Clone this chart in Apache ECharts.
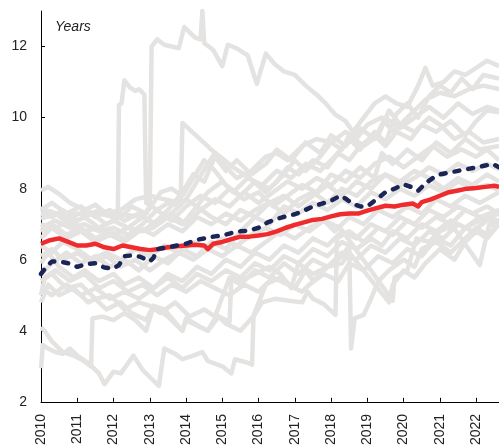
<!DOCTYPE html>
<html><head><meta charset="utf-8">
<script src="https://cdn.jsdelivr.net/npm/echarts@6/dist/echarts.min.js"></script>
<style>html,body{margin:0;padding:0;background:#fff}#c{width:499px;height:448px}</style>
</head><body><div id="c"></div>
<script>
const yearTicks = [2010,2011,2012,2013,2014,2015,2016,2017,2018,2019,2020,2021,2022];
const valueTicks = [2,4,6,8,10,12];
const unitLabel = 'Years';

const redLine = [[2010.0,6.45],[2010.25,6.55],[2010.5,6.6],[2010.75,6.5],[2011.0,6.4],[2011.25,6.4],[2011.5,6.45],[2011.75,6.35],[2012.0,6.3],[2012.25,6.4],[2012.5,6.35],[2012.75,6.3],[2013.0,6.27],[2013.25,6.3],[2013.5,6.35],[2013.75,6.38],[2014.0,6.4],[2014.25,6.42],[2014.5,6.4],[2014.6,6.3],[2014.75,6.45],[2015.0,6.5],[2015.25,6.58],[2015.5,6.65],[2015.75,6.65],[2016.0,6.68],[2016.25,6.72],[2016.5,6.8],[2016.75,6.9],[2017.0,6.98],[2017.25,7.05],[2017.5,7.12],[2017.75,7.15],[2018.0,7.22],[2018.25,7.28],[2018.5,7.3],[2018.75,7.3],[2019.0,7.38],[2019.25,7.45],[2019.5,7.52],[2019.75,7.5],[2020.0,7.55],[2020.25,7.58],[2020.4,7.5],[2020.5,7.62],[2020.75,7.7],[2021.0,7.8],[2021.25,7.9],[2021.5,7.95],[2021.75,8.0],[2022.0,8.02],[2022.25,8.05],[2022.5,8.08],[2022.63,8.05]];

const navyLine = [[2010.0,5.6],[2010.15,5.8],[2010.3,5.95],[2010.5,5.95],[2010.75,5.9],[2011.0,5.8],[2011.25,5.88],[2011.5,5.9],[2011.75,5.78],[2012.0,5.75],[2012.15,5.85],[2012.3,6.1],[2012.5,6.12],[2012.75,6.08],[2013.0,5.95],[2013.1,6.05],[2013.2,6.3],[2013.5,6.35],[2013.75,6.4],[2014.0,6.45],[2014.25,6.55],[2014.5,6.6],[2014.75,6.65],[2015.0,6.68],[2015.25,6.75],[2015.5,6.8],[2015.75,6.82],[2016.0,6.9],[2016.25,7.05],[2016.5,7.15],[2016.75,7.22],[2017.0,7.28],[2017.25,7.38],[2017.5,7.5],[2017.75,7.58],[2018.0,7.66],[2018.25,7.8],[2018.4,7.72],[2018.6,7.57],[2018.8,7.5],[2019.0,7.5],[2019.25,7.7],[2019.5,7.9],[2019.75,8.0],[2020.0,8.12],[2020.2,8.05],[2020.4,7.94],[2020.6,8.15],[2020.85,8.33],[2021.0,8.4],[2021.25,8.45],[2021.5,8.5],[2021.75,8.55],[2022.0,8.6],[2022.25,8.65],[2022.45,8.7],[2022.63,8.6]];

const g01 = [[2010,7.3],[2010.3,7.35],[2010.6,7.2],[2011,7.3],[2011.3,7.25],[2011.6,7.4],[2012,7.3],[2012.4,7.25],[2012.8,7.2],[2013.0,7.5],[2013.05,12.0],[2013.2,12.2],[2013.4,12.05],[2013.6,12.0],[2013.8,11.95],[2013.95,12.55],[2014.1,12.4],[2014.25,12.25],[2014.4,12.2],[2014.45,13.0],[2014.5,12.1],[2014.75,11.9],[2015.0,11.45],[2015.15,12.05],[2015.4,11.95],[2015.7,11.75],[2015.95,10.95],[2016.2,11.8],[2016.45,11.5],[2016.7,11.3],[2017.0,11.2],[2017.3,10.9],[2017.65,10.6],[2017.85,10.4],[2018.1,10.1],[2018.4,9.9],[2018.6,9.6],[2018.9,10.0],[2019.2,10.4],[2019.5,10.6],[2019.8,10.4],[2020.1,10.3],[2020.4,10.9],[2020.6,11.4],[2020.8,10.9],[2021.1,11.0],[2021.4,11.3],[2021.7,11.2],[2022.0,11.4],[2022.3,11.6],[2022.63,11.45]];
const g02 = [[2010,7.45],[2010.4,7.3],[2010.8,7.2],[2011.2,7.35],[2011.6,7.3],[2012.0,7.2],[2012.12,7.3],[2012.15,10.35],[2012.22,10.4],[2012.3,11.05],[2012.45,10.85],[2012.6,10.75],[2012.7,10.8],[2012.85,10.65],[2012.9,7.6],[2013.2,7.4],[2013.5,7.6],[2013.8,7.5],[2014.0,7.7],[2014.3,8.2],[2014.6,8.7],[2014.8,9.0],[2015.1,8.6],[2015.4,8.3],[2015.8,8.5],[2016.2,8.9],[2016.5,9.0],[2016.8,8.8],[2017.2,9.2],[2017.6,9.4],[2018.0,9.3],[2018.4,9.6],[2018.7,9.4],[2019.0,9.8],[2019.4,10.0],[2019.7,9.6],[2020.0,9.9],[2020.3,10.2],[2020.6,10.5],[2021.0,10.7],[2021.4,10.6],[2021.8,10.8],[2022.2,10.9],[2022.63,10.8]];
const g03 = [[2010,7.95],[2010.2,8.05],[2010.5,7.85],[2010.8,7.6],[2011.2,7.4],[2011.5,7.55],[2011.8,7.3],[2012.2,7.4],[2012.6,7.7],[2013.0,7.8],[2013.4,7.7],[2013.85,7.6],[2013.9,9.85],[2014.75,9.05],[2015.3,8.6],[2015.75,8.3],[2016.2,7.9],[2016.5,8.2],[2016.8,8.6],[2017.1,8.4],[2017.5,8.8],[2017.9,8.6],[2018.2,9.0],[2018.5,8.8],[2018.8,9.2],[2019.2,9.5],[2019.5,9.2],[2019.8,9.6],[2020.2,9.4],[2020.5,9.8],[2020.9,9.6],[2021.3,9.9],[2021.7,9.5],[2022.0,9.9],[2022.3,10.2],[2022.63,10.15]];
const g04 = [[2010,7.3],[2010.3,7.2],[2010.6,7.4],[2011,7.1],[2011.4,7.3],[2011.8,7.0],[2012.2,7.2],[2012.5,7.5],[2012.9,7.3],[2013.3,7.9],[2013.6,8.0],[2013.9,7.8],[2014.2,8.3],[2014.5,8.8],[2014.8,8.5],[2015.1,8.1],[2015.5,7.8],[2015.9,8.2],[2016.3,8.0],[2016.7,8.4],[2017.0,8.8],[2017.3,8.5],[2017.7,8.9],[2018.0,9.3],[2018.3,9.1],[2018.5,9.5],[2018.9,9.2],[2019.3,9.5],[2019.6,10.2],[2019.9,9.8],[2020.3,9.6],[2020.7,10.0],[2021.0,9.8],[2021.4,9.4],[2021.8,9.6],[2022.2,9.3],[2022.63,9.4]];
const g05 = [[2010,7.0],[2010.4,6.9],[2010.8,7.1],[2011.2,6.8],[2011.6,6.9],[2012.0,6.7],[2012.4,6.9],[2012.8,6.8],[2013.2,7.1],[2013.6,7.3],[2014.0,7.0],[2014.4,7.4],[2014.8,7.7],[2015.2,7.5],[2015.6,7.9],[2016.0,7.6],[2016.4,7.9],[2016.8,8.2],[2017.2,8.0],[2017.6,8.3],[2018.0,8.1],[2018.4,8.5],[2018.8,8.3],[2019.2,8.7],[2019.6,8.9],[2020.0,8.6],[2020.4,8.9],[2020.8,9.2],[2021.2,8.9],[2021.6,9.1],[2022.0,8.9],[2022.3,9.1],[2022.63,8.8]];
const g06 = [[2010,6.8],[2010.3,7.0],[2010.7,6.7],[2011.1,6.9],[2011.5,6.6],[2011.9,6.8],[2012.3,6.6],[2012.7,6.9],[2013.1,6.7],[2013.5,7.0],[2013.9,6.8],[2014.3,7.2],[2014.7,7.0],[2015.1,7.3],[2015.5,7.1],[2015.9,7.4],[2016.3,7.6],[2016.7,7.3],[2017.1,7.7],[2017.5,7.9],[2017.9,7.6],[2018.3,8.0],[2018.7,7.8],[2019.1,8.2],[2019.5,8.4],[2019.9,8.1],[2020.3,8.3],[2020.7,8.6],[2021.1,8.4],[2021.5,8.7],[2021.9,8.5],[2022.3,8.7],[2022.63,8.55]];
const g07 = [[2010,6.1],[2010.3,6.3],[2010.6,6.0],[2011,6.2],[2011.4,5.9],[2011.8,6.1],[2012.2,5.8],[2012.6,6.0],[2013.0,5.7],[2013.4,6.0],[2013.8,6.2],[2014.2,6.0],[2014.6,6.3],[2015.0,6.1],[2015.4,6.4],[2015.8,6.2],[2016.2,6.5],[2016.6,6.8],[2017.0,6.6],[2017.4,6.9],[2017.8,7.1],[2018.1,6.8],[2018.5,7.2],[2018.9,7.0],[2019.3,7.4],[2019.7,7.2],[2020.1,7.5],[2020.5,7.3],[2020.9,7.7],[2021.3,7.5],[2021.7,7.8],[2022.1,7.6],[2022.63,7.9]];
const g08 = [[2010,5.9],[2010.2,6.2],[2010.5,5.8],[2010.9,5.5],[2011.2,5.7],[2011.6,5.4],[2012.0,5.6],[2012.3,5.3],[2012.7,5.5],[2013.1,5.2],[2013.5,5.6],[2013.9,5.4],[2014.3,5.8],[2014.7,5.6],[2015.1,6.0],[2015.5,5.8],[2015.9,6.2],[2016.3,6.0],[2016.7,6.4],[2017.1,6.2],[2017.5,6.6],[2017.9,6.4],[2018.3,6.8],[2018.7,6.6],[2019.1,7.0],[2019.5,6.8],[2019.9,7.2],[2020.3,7.0],[2020.7,7.4],[2021.1,7.2],[2021.5,7.5],[2021.9,7.3],[2022.3,7.5],[2022.63,7.3]];
const g09 = [[2010,5.4],[2010.3,5.6],[2010.7,5.2],[2011.1,5.3],[2011.5,4.9],[2011.9,5.0],[2012.3,4.6],[2012.7,4.8],[2013.0,4.7],[2013.3,4.5],[2013.7,4.8],[2014.1,4.4],[2014.5,4.6],[2014.8,4.4],[2015.2,5.5],[2015.5,5.3],[2015.9,5.7],[2016.3,5.5],[2016.7,5.9],[2017.1,5.6],[2017.5,6.0],[2017.9,5.8],[2018.3,6.2],[2018.7,6.0],[2019.1,6.4],[2019.5,6.2],[2019.9,6.6],[2020.3,6.4],[2020.7,6.8],[2021.1,6.6],[2021.5,7.0],[2021.9,6.8],[2022.3,7.1],[2022.63,6.95]];
const g10 = [[2010,5.0],[2010.1,5.5],[2010.4,5.7],[2010.8,5.4],[2011.2,5.6],[2011.6,5.2],[2012.0,5.4],[2012.4,5.1],[2012.8,5.3],[2013.2,5.0],[2013.6,5.3],[2014.0,5.1],[2014.4,5.4],[2014.8,5.2],[2015.2,5.0],[2015.6,5.3],[2016.0,5.1],[2016.4,5.5],[2016.8,5.3],[2017.2,5.1],[2017.4,5.3],[2017.8,5.6],[2018.2,5.4],[2018.5,5.9],[2018.9,5.7],[2019.3,6.1],[2019.7,5.9],[2020.1,6.3],[2020.5,6.1],[2020.9,6.6],[2021.3,6.4],[2021.7,6.9],[2022.1,7.1],[2022.63,7.3]];
const g11 = [[2010,4.8],[2010.2,5.3],[2010.5,5.0],[2010.9,5.2],[2011.3,4.8],[2011.5,4.9],[2011.8,4.6],[2012.2,4.8],[2012.5,4.5],[2012.9,4.3],[2013.1,4.7],[2013.5,4.4],[2013.9,4.0],[2014.0,4.3],[2014.4,4.1],[2014.6,4.0],[2014.85,4.45],[2015.1,4.2],[2015.5,4.0],[2015.85,4.4],[2016.2,5.3],[2016.6,5.5],[2017.0,5.2],[2017.3,5.7],[2017.5,5.4],[2017.9,5.8],[2018.3,5.9],[2018.5,6.2],[2019.6,4.8],[2019.7,5.3],[2020.0,5.7],[2020.3,5.5],[2020.6,5.9],[2021.0,6.3],[2021.4,6.0],[2021.7,6.5],[2022.0,6.8],[2022.3,6.6],[2022.63,7.0]];
const g12 = [[2010,2.95],[2010.05,3.6],[2010.2,3.5],[2010.4,3.4],[2010.6,3.35],[2010.8,3.5],[2011.0,3.3],[2011.3,3.1],[2011.6,2.8],[2011.75,2.5],[2012.0,2.85],[2012.2,2.8],[2012.55,3.3],[2012.8,2.9],[2013.0,2.7],[2013.25,2.45],[2013.4,3.5],[2013.7,3.35],[2013.9,3.2],[2014.2,3.3],[2014.45,3.4],[2014.6,3.15],[2015.0,3.0],[2015.25,2.8],[2015.35,3.2],[2015.7,3.1],[2015.82,3.05],[2015.86,4.4],[2016.1,4.8],[2016.45,4.9],[2016.8,4.85],[2017.2,4.8],[2017.35,5.1],[2017.5,4.9],[2017.8,4.75],[2018.12,4.45],[2018.16,6.6],[2018.5,6.8],[2018.9,6.5],[2019.3,6.9],[2019.7,6.7],[2020.1,7.1],[2020.5,6.9],[2020.9,7.2],[2021.3,7.0],[2021.7,7.4],[2022.1,7.2],[2022.63,7.4]];
const g13 = [[2010,4.1],[2010.1,4.0],[2010.3,3.7],[2010.6,3.4],[2010.9,3.3],[2011.1,3.2],[2011.38,3.0],[2011.42,4.35],[2011.7,4.4],[2012.0,4.3],[2012.3,4.5],[2012.6,4.3],[2012.9,4.0],[2013.1,4.7],[2013.4,4.6],[2013.9,4.0],[2014.0,4.35],[2014.4,4.1],[2014.6,4.0],[2014.9,4.4],[2015.2,4.25],[2015.25,5.5],[2015.5,5.4],[2015.9,5.6],[2016.3,5.8],[2016.6,5.6],[2016.9,5.2],[2017.1,5.9],[2017.5,5.6],[2017.9,5.8],[2018.3,6.1],[2018.5,6.4],[2018.55,3.5],[2018.65,4.35],[2018.9,4.45],[2019.1,4.9],[2019.3,5.4],[2019.6,5.7],[2020.0,6.0],[2020.3,5.8],[2020.5,6.3],[2020.9,6.5],[2021.3,6.2],[2021.7,6.6],[2022.0,6.9],[2022.3,6.7],[2022.63,7.0]];
const g14 = [[2010,6.4],[2010.3,6.2],[2010.6,6.5],[2011,6.3],[2011.4,6.0],[2011.8,6.2],[2012.2,6.0],[2012.6,6.3],[2013.0,6.1],[2013.4,6.4],[2013.8,6.2],[2014.2,6.5],[2014.6,6.3],[2015.0,6.6],[2015.4,6.4],[2015.8,6.7],[2016.2,6.9],[2016.6,6.7],[2017.0,7.0],[2017.4,6.8],[2017.8,7.1],[2018.25,6.9],[2019.7,4.85],[2019.75,5.5],[2020.1,5.7],[2020.35,6.6],[2020.7,6.5],[2021.0,6.8],[2021.35,6.95],[2022.1,5.85],[2022.35,6.95],[2022.63,7.05]];
const g15 = [[2010,6.6],[2010.3,6.9],[2010.7,6.6],[2011.1,6.8],[2011.5,6.5],[2011.9,6.7],[2012.3,6.5],[2012.7,6.8],[2013.1,6.9],[2013.5,7.2],[2013.9,7.0],[2014.3,7.5],[2014.7,7.2],[2015.1,7.0],[2015.5,7.4],[2015.9,7.2],[2016.3,7.6],[2016.7,7.8],[2017.1,7.5],[2017.5,7.8],[2017.9,8.1],[2018.3,7.8],[2018.7,8.2],[2019.1,8.0],[2019.5,8.4],[2019.9,8.2],[2020.3,8.5],[2020.7,8.3],[2021.1,8.0],[2021.5,8.3],[2021.9,8.1],[2022.3,8.4],[2022.63,8.2]];
const g16 = [[2010,5.6],[2010.3,5.9],[2010.7,6.2],[2011.1,5.9],[2011.5,6.1],[2011.9,5.8],[2012.3,6.0],[2012.7,5.7],[2013.1,6.1],[2013.5,5.9],[2013.9,6.3],[2014.3,6.1],[2014.7,6.5],[2015.1,6.3],[2015.5,6.8],[2015.9,7.2],[2016.3,7.0],[2016.7,7.5],[2017.1,7.3],[2017.5,7.6],[2017.9,7.4],[2018.3,7.7],[2018.7,7.5],[2019.1,7.9],[2019.5,7.7],[2019.9,8.0],[2020.3,7.8],[2020.7,8.1],[2021.1,7.9],[2021.5,8.2],[2021.9,8.0],[2022.3,8.1],[2022.63,7.95]];
const g17 = [[2010,7.4],[2010.3,7.6],[2010.7,7.3],[2011.1,7.5],[2011.5,7.2],[2011.9,7.4],[2012.3,7.1],[2012.7,7.3],[2013.1,7.0],[2013.5,7.4],[2013.9,7.9],[2014.2,8.4],[2014.5,8.2],[2014.8,8.9],[2015.1,8.5],[2015.4,8.8],[2015.8,8.4],[2016.2,8.7],[2016.5,9.1],[2016.9,8.8],[2017.3,9.3],[2017.7,9.0],[2018.0,9.5],[2018.4,9.2],[2018.8,9.7],[2019.2,9.4],[2019.5,10.0],[2019.9,9.7],[2020.3,10.0],[2020.7,10.3],[2021.1,10.0],[2021.5,10.4],[2021.9,10.1],[2022.3,10.3],[2022.63,10.2]];
const g18 = [[2010,7.15],[2010.4,7.3],[2010.8,7.0],[2011.2,7.2],[2011.6,6.9],[2012.0,7.1],[2012.4,6.9],[2012.8,7.2],[2013.2,7.0],[2013.6,7.3],[2014.0,7.7],[2014.3,7.5],[2014.6,7.9],[2015.0,8.2],[2015.3,7.9],[2015.7,8.3],[2016.1,8.1],[2016.5,8.5],[2016.9,8.3],[2017.3,8.7],[2017.7,8.5],[2018.1,8.9],[2018.5,9.4],[2018.8,9.1],[2019.2,9.6],[2019.5,9.3],[2019.8,10.1],[2020.1,10.4],[2020.4,10.0],[2020.7,10.6],[2021.0,10.9],[2021.3,10.7],[2021.6,11.1],[2021.9,10.8],[2022.2,11.2],[2022.63,11.1]];
const g19 = [[2010,5.2],[2010.3,5.0],[2010.7,5.3],[2011.1,5.0],[2011.5,5.2],[2011.9,4.9],[2012.3,5.1],[2012.7,4.9],[2013.1,5.2],[2013.5,5.5],[2013.9,5.2],[2014.3,5.6],[2014.7,5.4],[2015.1,5.7],[2015.5,5.5],[2015.9,5.9],[2016.3,5.7],[2016.7,6.1],[2017.1,5.9],[2017.5,6.3],[2017.9,6.1],[2018.3,6.5],[2018.7,6.3],[2019.1,6.6],[2019.4,6.4],[2019.7,6.8],[2020.1,6.6],[2020.5,7.0],[2020.9,6.8],[2021.3,7.1],[2021.7,6.9],[2022.1,7.2],[2022.63,7.1]];
const g20 = [[2010,6.9],[2010.4,7.1],[2010.8,6.9],[2011.2,7.0],[2011.6,6.8],[2012.0,6.9],[2012.4,6.7],[2012.8,7.0],[2013.2,7.4],[2013.6,7.1],[2014.0,7.5],[2014.4,7.8],[2014.8,7.6],[2015.2,8.0],[2015.6,7.7],[2016.0,7.9],[2016.4,7.5],[2016.8,7.8],[2017.2,8.1],[2017.6,7.9],[2018.0,8.4],[2018.4,8.2],[2018.8,8.6],[2019.2,8.3],[2019.4,9.0],[2019.7,8.7],[2020.1,9.1],[2020.5,8.8],[2020.9,9.3],[2021.3,9.0],[2021.7,9.4],[2022.1,9.1],[2022.63,9.2]];

const greyLines = [g01,g02,g03,g04,g05,g06,g07,g08,g09,g10,g11,g12,g13,g14,g15,g16,g17,g18,g19,g20];

const chart = echarts.init(document.getElementById('c'), null, {renderer:'canvas'});
const series = greyLines.map(d => ({
  type:'line', data:d, showSymbol:false, silent:true, z:1,
  lineStyle:{color:'#e4e3e2', width:4.5, join:'round'}
}));
series.push({type:'line', data:redLine, showSymbol:false, silent:true, z:3,
  lineStyle:{color:'#ef2b2d', width:4.5, join:'round'}});
series.push({type:'line', data:navyLine, showSymbol:false, silent:true, z:4,
  lineStyle:{color:'#1b2657', width:4.5, type:[5,9], cap:'round'}});

chart.setOption({
  animation:false,
  grid:{left:41, right:0, top:11, bottom:44, containLabel:false},
  xAxis:{type:'value', min:2010, max:2022.63, interval:1,
    axisLine:{lineStyle:{color:'#000', width:1}},
    axisTick:{inside:true, length:4, lineStyle:{color:'#000'}, customValues:yearTicks},
    axisLabel:{rotate:90, margin:12, fontSize:14, color:'#222', fontFamily:'Liberation Sans, Arial, sans-serif', customValues:yearTicks, formatter:v=>String(v)},
    splitLine:{show:false}},
  yAxis:{type:'value', min:2, max:13, interval:1,
    axisLine:{show:true, lineStyle:{color:'#000', width:1}},
    axisTick:{show:true, inside:true, length:4, lineStyle:{color:'#000'}, customValues:valueTicks},
    axisLabel:{margin:14, fontSize:14, color:'#222', fontFamily:'Liberation Sans, Arial, sans-serif', customValues:valueTicks},
    splitLine:{show:false}},
  graphic:[{type:'text', left:55, top:20, style:{text:unitLabel, font:'italic 14px "Liberation Sans", Arial, sans-serif', fill:'#222'}}],
  series
});
</script></body></html>
